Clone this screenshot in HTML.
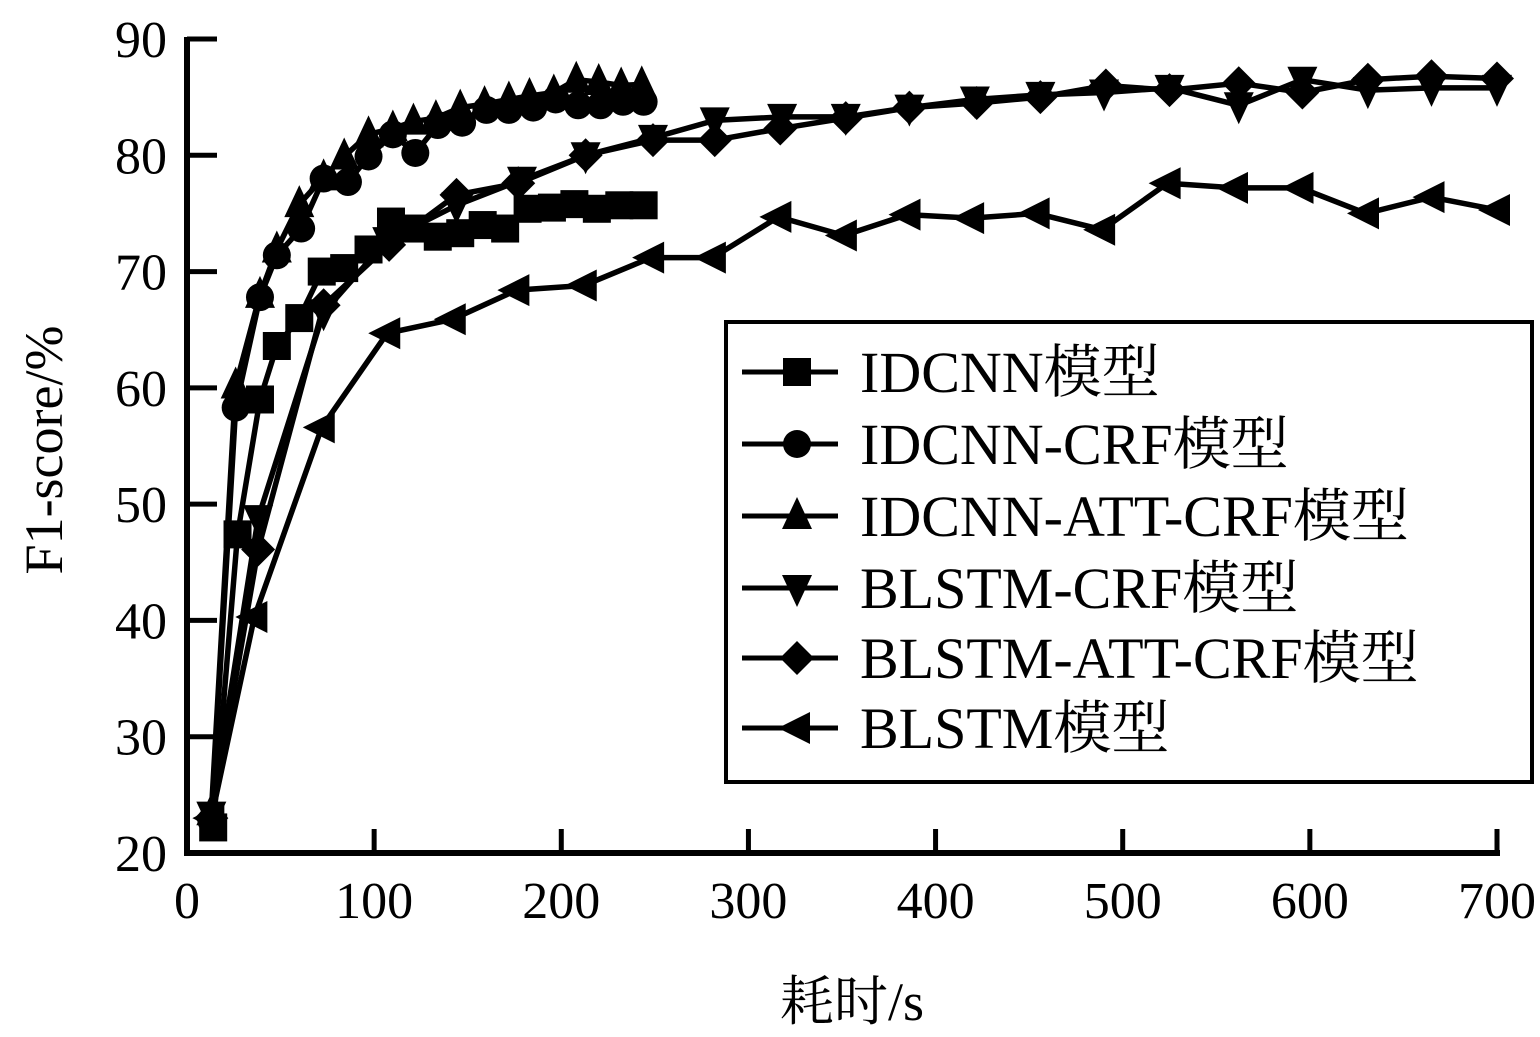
<!DOCTYPE html>
<html><head><meta charset="utf-8"><style>
html,body{margin:0;padding:0;background:#fff;}
text{font-family:"Liberation Serif","Noto Serif CJK SC",serif;fill:#000;}
</style></head><body>
<svg id="chart" width="1540" height="1032" viewBox="0 0 1540 1032" xmlns="http://www.w3.org/2000/svg"></svg>
<script>
const xTicks=[0,100,200,300,400,500,600,700];
const yTicks=[20,30,40,50,60,70,80,90];
const seriesNames=["IDCNN模型","IDCNN-CRF模型","IDCNN-ATT-CRF模型","BLSTM-CRF模型","BLSTM-ATT-CRF模型","BLSTM模型"];
const idcnnX=[14,27,39,48,60,72,84,97,109,121,134,146,158,170,182,195,207,219,231,244];
const idcnnY=[22.2,47.4,59.0,63.6,66.0,70.0,70.3,71.9,74.3,73.7,73.0,73.3,74.0,73.7,75.4,75.5,75.8,75.4,75.7,75.7];
const crfX=[13,26,39,48,61,73,86,97,110,122,134,147,160,172,185,197,209,221,233,244];
const crfY=[22.8,58.3,67.8,71.4,73.7,78.0,77.7,79.9,81.8,80.2,82.6,82.8,83.9,83.9,84.1,84.8,84.3,84.3,84.6,84.6];
const attX=[13,26,39,48,60,73,84,97,110,121,133,146,159,172,183,196,208,220,232,243];
const attY=[23.5,60.2,68.0,71.9,75.8,78.1,79.9,81.8,82.3,82.9,83.2,84.1,84.4,84.8,85.1,85.4,86.5,86.3,86.0,86.1];
const blstmCrfX=[13,38,73,107,144,179,213,249,282,318,352,386,421,456,490,525,562,596,631,665,700];
const blstmCrfY=[23.3,48.8,66.5,72.7,75.7,77.9,80.0,81.5,83.0,83.3,83.3,84.1,84.8,85.2,85.4,85.8,84.3,86.5,85.6,85.8,85.8];
const blstmAttX=[13,38,73,108,144,177,213,249,282,317,352,386,422,456,491,525,562,596,631,665,700];
const blstmAttY=[23.0,46.1,67.1,72.3,76.6,77.6,80.0,81.3,81.3,82.3,83.2,84.1,84.5,85.0,86.0,85.6,86.2,85.4,86.5,86.8,86.6];
const blstmX=[13,36,72,107,142,176,212,248,281,316,351,385,419,454,489,524,560,595,630,665,700];
const blstmY=[23.0,40.3,56.6,64.7,65.9,68.4,68.8,71.2,71.2,74.7,73.1,74.9,74.6,75.0,73.6,77.6,77.2,77.2,75.0,76.4,75.3];

const NS="http://www.w3.org/2000/svg";
const svg=document.getElementById('chart');
const X0=187,X1=1497,Y0=853,Y1=39;
const sx=v=>X0+(v-0)/(700)*(X1-X0);
const sy=v=>Y0-(v-20)/70*(Y0-Y1);
function mk(t,a,p){const e=document.createElementNS(NS,t);for(const k in a)e.setAttribute(k,a[k]);(p||svg).appendChild(e);return e;}

const ax=mk('g',{});


mk('line',{x1:X0,y1:Y1-2,x2:X0,y2:Y0+3,stroke:'#000','stroke-width':6},ax);
mk('line',{x1:X0-3,y1:Y0,x2:X1+3,y2:Y0,stroke:'#000','stroke-width':6},ax);
yTicks.forEach(v=>{
  mk('line',{x1:X0,y1:sy(v),x2:X0+30,y2:sy(v),stroke:'#000','stroke-width':5},ax);
  const t=mk('text',{x:X0-20,y:sy(v)+18,'text-anchor':'end','font-size':52},ax);
  t.textContent=v;
  
  
});
xTicks.forEach(v=>{
  mk('line',{x1:sx(v),y1:Y0,x2:sx(v),y2:Y0-24,stroke:'#000','stroke-width':5},ax);
  const t=mk('text',{x:sx(v),y:Y0+65,'text-anchor':'middle','font-size':52},ax);
  t.textContent=v;
  
  
});
const xt=mk('text',{x:852,y:1020,'text-anchor':'middle','font-size':54});
xt.textContent='耗时/s';


const yt=mk('text',{x:0,y:0,'text-anchor':'middle','font-size':54,transform:'translate(62,450) rotate(-90)'});
yt.textContent='F1-score/%';



function marker(type,x,y,g){
  const s=14;
  if(type==='sq')return mk('rect',{x:x-s,y:y-s,width:2*s,height:2*s,fill:'#000'},g);
  if(type==='ci')return mk('circle',{cx:x,cy:y,r:14,fill:'#000'},g);
  if(type==='up')return mk('polygon',{points:`${x},${y-19} ${x+15},${y+13} ${x-15},${y+13}`,fill:'#000'},g);
  if(type==='dn')return mk('polygon',{points:`${x},${y+19} ${x+15},${y-13} ${x-15},${y-13}`,fill:'#000'},g);
  if(type==='di')return mk('polygon',{points:`${x},${y-17} ${x+17},${y} ${x},${y+17} ${x-17},${y}`,fill:'#000'},g);
  if(type==='lt')return mk('polygon',{points:`${x-19},${y} ${x+13},${y-16} ${x+13},${y+16}`,fill:'#000'},g);
}
const series=[[idcnnX,idcnnY,'sq'],[crfX,crfY,'ci'],[attX,attY,'up'],[blstmCrfX,blstmCrfY,'dn'],[blstmAttX,blstmAttY,'di'],[blstmX,blstmY,'lt']];
const snames=['series-idcnn','series-idcnn-crf','series-idcnn-att-crf','series-blstm-crf','series-blstm-att-crf','series-blstm'];
series.forEach((s,i)=>{
  const g=mk('g',{});
  
  
  const pts=s[0].map((x,j)=>sx(x)+','+sy(s[1][j])).join(' ');
  mk('polyline',{points:pts,fill:'none',stroke:'#000','stroke-width':5.5,'stroke-linejoin':'round'},g);
  s[0].forEach((x,j)=>{
    const m=marker(s[2],sx(x),sy(s[1][j]),g);
    
    
  });
});

const lg=mk('g',{});


mk('rect',{x:726,y:322,width:806,height:460,fill:'#fff',stroke:'#000','stroke-width':4},lg);
const ly=[372,444,516,588,658,728];
seriesNames.forEach((n,i)=>{
  const e=mk('g',{},lg);
  
  
  mk('line',{x1:742,y1:ly[i],x2:838,y2:ly[i],stroke:'#000','stroke-width':5},e);
  marker(series[i][2],797,ly[i],e);
  const t=mk('text',{x:860,y:ly[i]+20,'font-size':58},e);
  t.textContent=n;
});
</script>
</body></html>
